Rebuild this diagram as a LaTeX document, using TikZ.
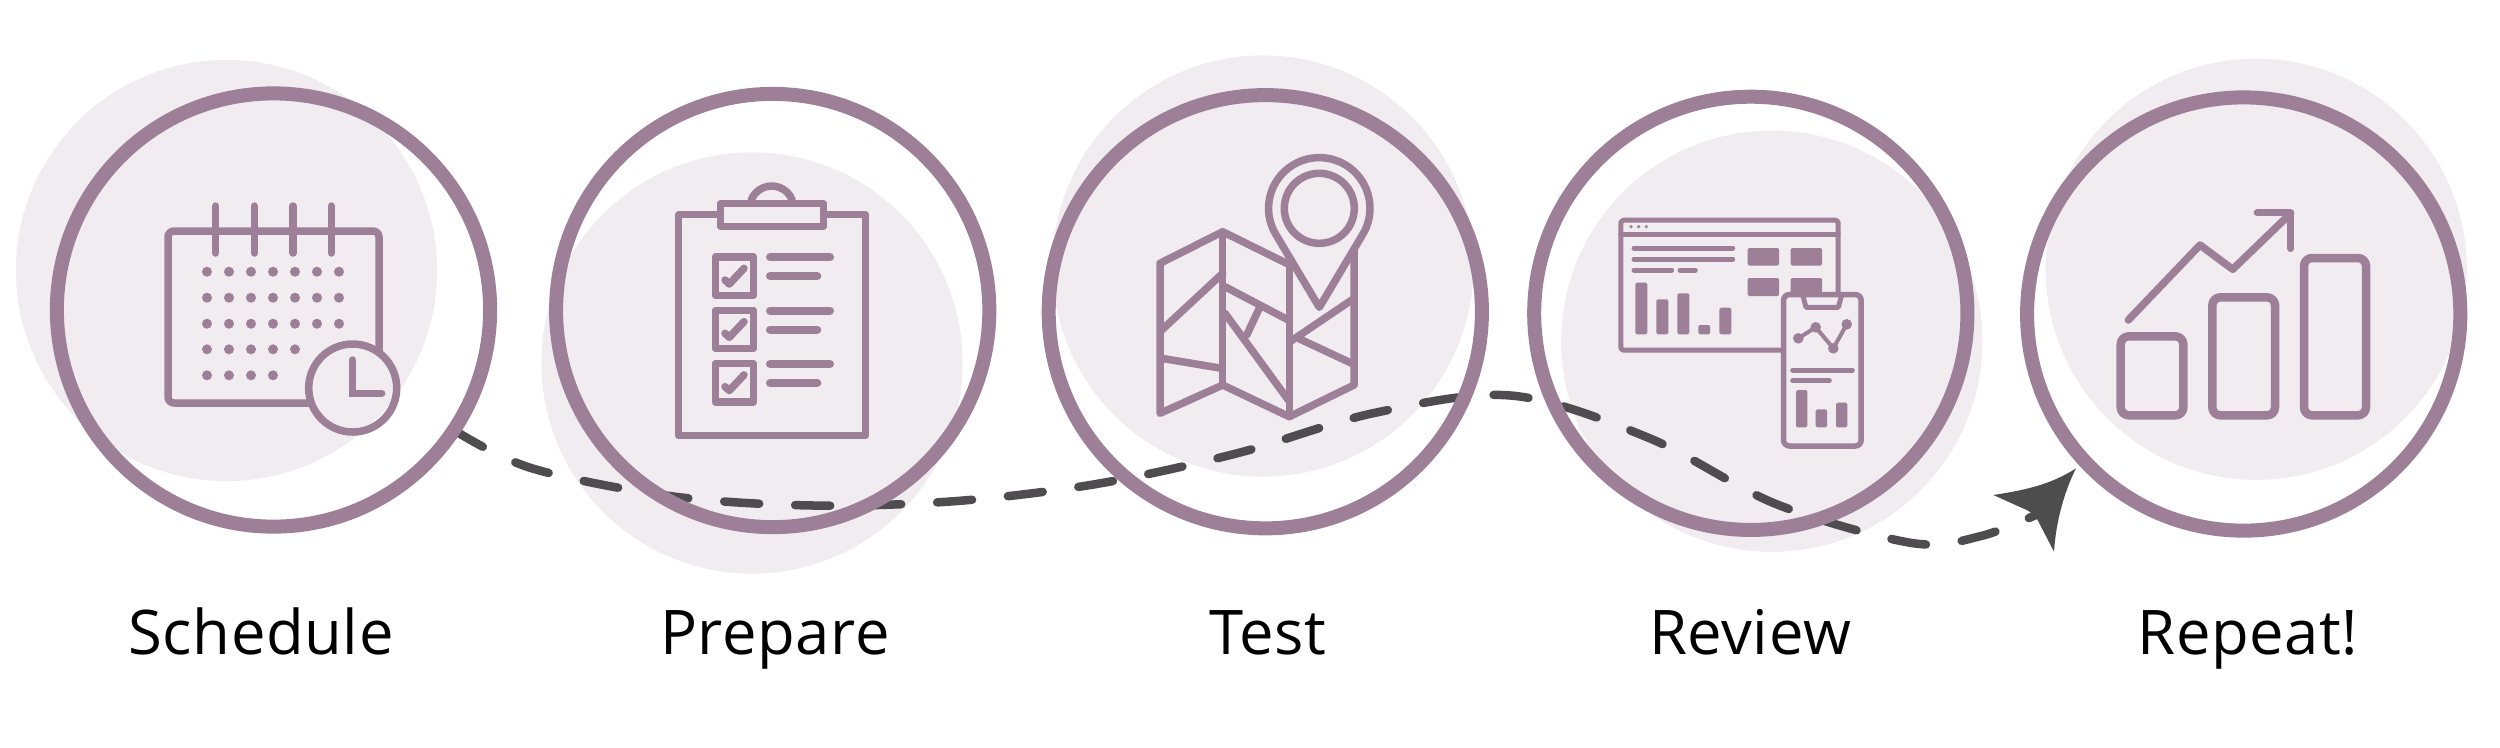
\documentclass[tikz,border=0pt]{standalone}
\usepackage{fontspec}
\setmainfont[LetterSpace=1]{Open Sans}
\definecolor{ringcol}{HTML}{9D7F97}
\definecolor{blobcol}{HTML}{F0ECF0}
\definecolor{trailcol}{HTML}{4F4C50}
\definecolor{headcol}{HTML}{4D4D4D}
\tikzset{
  blob/.style={circle,fill=blobcol,minimum size=4.21cm,inner sep=0pt},
  ring/.style={circle,draw=ringcol,line width=.14cm,minimum size=4.33cm,inner sep=0pt},
  steplabel/.style={anchor=base,text=black,font=\fontsize{17.5}{20}\selectfont},
  trail/.style={draw=trailcol,line width=.085cm,line cap=round,dash pattern=on .35cm off .36cm},
  icon/.style={draw=ringcol,line width=.075cm,line cap=round,line join=round},
  thinicon/.style={icon,line width=.05cm},
  solid/.style={fill=ringcol,rounded corners=.015cm}
}
\begin{document}
\begin{tikzpicture}[x=.01cm,y=-.01cm]
          \useasboundingbox (0,0) rectangle (2500,747);
          \node (blob1) [blob] at (226.5,270.5) {};
          \node (blob2) [blob] at (752,363) {};
          \node (blob3) [blob] at (1263,266) {};
          \node (blob4) [blob] at (1771.8,341.2) {};
          \node (blob5) [blob] at (2256.2,269.2) {};

          \coordinate (trailstart) at (452.5,429.2);
          \coordinate (trailend) at (2040,513);
          \draw [trail] plot [smooth,tension=.55] coordinates {(trailstart) (531,468) (672,496.3) (814,505.5)
            (957,501) (1098,483.7) (1237,453.3) (1374,413) (1512,395.6) (1649,438) (1776,504) (1912,543)
            (1981,536) (trailend)};

          \node (ring1) [ring] at (273.5,310) {};
          \node (ring2) [ring] at (772.7,310.5) {};
          \node (ring3) [ring] at (1265.3,311.7) {};
          \node (ring4) [ring] at (1750.8,313.3) {};
          \node (ring5) [ring] at (2243.7,314) {};

          \node (label1) [steplabel] at (261,654) {Schedule};
          \node (label2) [steplabel] at (775,654) {Prepare};
          \node (label3) [steplabel] at (1268,654) {Test};
          \node (label4) [steplabel] at (1750,654) {Review};
          \node (label5) [steplabel] at (2248,654) {Repeat!};

          % calendar
          \draw [icon,rounded corners=.06cm] (379,352.7) -- (379,231) -- (168,231) -- (168,403) -- (311.3,403);
          \foreach \x in {215.7,254.3,293,331.3}
            \draw [icon] (\x,206) -- (\x,253);
          \foreach \y/\xs in {271.7/{207,229,251,273,295,317,339},297.7/{207,229,251,273,295,317,339},
              323.7/{207,229,251,273,295,317,339},349.3/{207,229,251,273,295},375.3/{207,229,251,273}}
            \foreach \x in \xs
              \fill [ringcol] (\x,\y) circle [radius=5];
          \draw [icon] (352.7,388) circle [radius=44];
          \draw [icon,line join=miter] (352.7,360) -- (352.7,393.3) -- (381.7,393.3);

          % clipboard
          \draw [icon] (678.7,214.7) rectangle (865.7,435.7);
          \draw [icon] (751.2,200) arc (201.3:338.7:22);
          \draw [icon,fill=blobcol] (720.4,203.7) rectangle (823.6,226.3);
          \foreach \y in {0,53.3,106.6} {
            \draw [icon,yshift=-\y*.01cm] (715.3,257) rectangle (753.7,295.3);
            \draw [icon,yshift=-\y*.01cm] (725,280) -- (729.3,284) -- (744,268.3);
            \draw [icon,line width=.08cm,yshift=-\y*.01cm] (770,257.3) -- (830,257.3);
            \draw [icon,line width=.08cm,yshift=-\y*.01cm] (770,276.3) -- (817.3,276.3);
          }

          % map and pin
          \draw [icon] (1288,264) -- (1222.7,231.7) -- (1160,263.3) -- (1160,413.3) -- (1222.7,385)
            -- (1289.3,416.7) -- (1354,385) -- (1354,249);
          \draw [icon] (1222.7,231.7) -- (1222.7,385);
          \draw [icon] (1289.3,264) -- (1289.3,416.7);
          \draw [icon] (1161.7,330) -- (1222.7,273.3);
          \draw [icon] (1161.7,358.3) -- (1221.7,368.3);
          \draw [icon] (1225,286.7) -- (1288.3,320);
          \draw [icon] (1225,313.3) -- (1288.3,400);
          \draw [icon] (1260,306.7) -- (1246.7,335);
          \draw [icon] (1290,341.7) -- (1351.7,300);
          \draw [icon] (1298.3,338.3) -- (1351.7,363.3);
          \draw [icon] (1275.8,234.4) arc (149:391:50.7) -- (1319.3,307.3) -- cycle;
          \draw [icon] (1319.3,208.3) circle [radius=35];

          % window and phone
          \draw [thinicon,rounded corners=.03cm] (1620.8,220.2) rectangle (1838.2,350.2);
          \draw [thinicon] (1620.8,234) -- (1838.2,234);
          \foreach \x in {1631,1638.7,1646.3}
            \fill [ringcol] (\x,226.7) circle [radius=1.8];
          \draw [thinicon] (1634,248) -- (1732.7,248);
          \draw [thinicon] (1634,259) -- (1732.7,259);
          \draw [thinicon] (1634,270) -- (1671.7,270);
          \draw [thinicon] (1680,270) -- (1695.3,270);
          \foreach \a/\b/\t in {1635.3/1647.3/282.7,1656.3/1668.3/299.3,1677.3/1689.3/293.3,1698.3/1710/325,1719.3/1731.3/307.7}
            \fill [solid] (\a,\t) rectangle (\b,334.3);
          \fill [solid] (1747.7,248) rectangle (1779,265.7);
          \fill [solid] (1790.7,248) rectangle (1822,265.7);
          \fill [solid] (1747.7,278) rectangle (1779,296);
          \fill [solid] (1790.7,278) rectangle (1822,296);
          \draw [thinicon,line width=.055cm,fill=blobcol,rounded corners=.06cm] (1783.5,294.5) rectangle (1861.2,446);
          \draw [thinicon] (1802.7,295) -- (1806,307.3) -- (1838.3,307.3) -- (1841.7,295);
          \draw [thinicon,line width=.04cm] (1798.3,338.3) -- (1815.7,327.3) -- (1833.3,348.3) -- (1846.7,324.3);
          \foreach \x/\y in {1798.3/338.3,1815.7/327.3,1833.3/348.3,1846.7/324.3}
            \fill [ringcol] (\x,\y) circle [radius=5.3];
          \draw [thinicon] (1792.7,370) -- (1852.3,370);
          \draw [thinicon] (1792.7,380.7) -- (1829.3,380.7);
          \fill [solid] (1796,390) rectangle (1807.3,427.3);
          \fill [solid] (1815.7,409.3) rectangle (1827,427.3);
          \fill [solid] (1836,402.7) rectangle (1847.3,427.3);

          % bars and rising line
          \draw [icon,line width=.085cm,rounded corners=.08cm] (2120.7,336.3) rectangle (2183.3,415.3);
          \draw [icon,line width=.085cm,rounded corners=.08cm] (2212.3,297.3) rectangle (2275,415.3);
          \draw [icon,line width=.085cm,rounded corners=.08cm] (2304,258) rectangle (2366,415.3);
          \draw [icon] (2128.3,320) -- (2200,245) -- (2232.7,269.3) -- (2290.7,213.3);
          \draw [icon] (2257.3,212.7) -- (2290.7,212.7) -- (2290.7,248.3);

          % arrow head
          \fill [headcol] (2076,468.3) .. controls (2050,485) and (2025,490) .. (1993.3,495)
            -- (2026.7,510) -- (2035,515) -- (2054,551.7)
            .. controls (2056,520) and (2065,490) .. (2076,468.3) -- cycle;
\end{tikzpicture}
\end{document}
